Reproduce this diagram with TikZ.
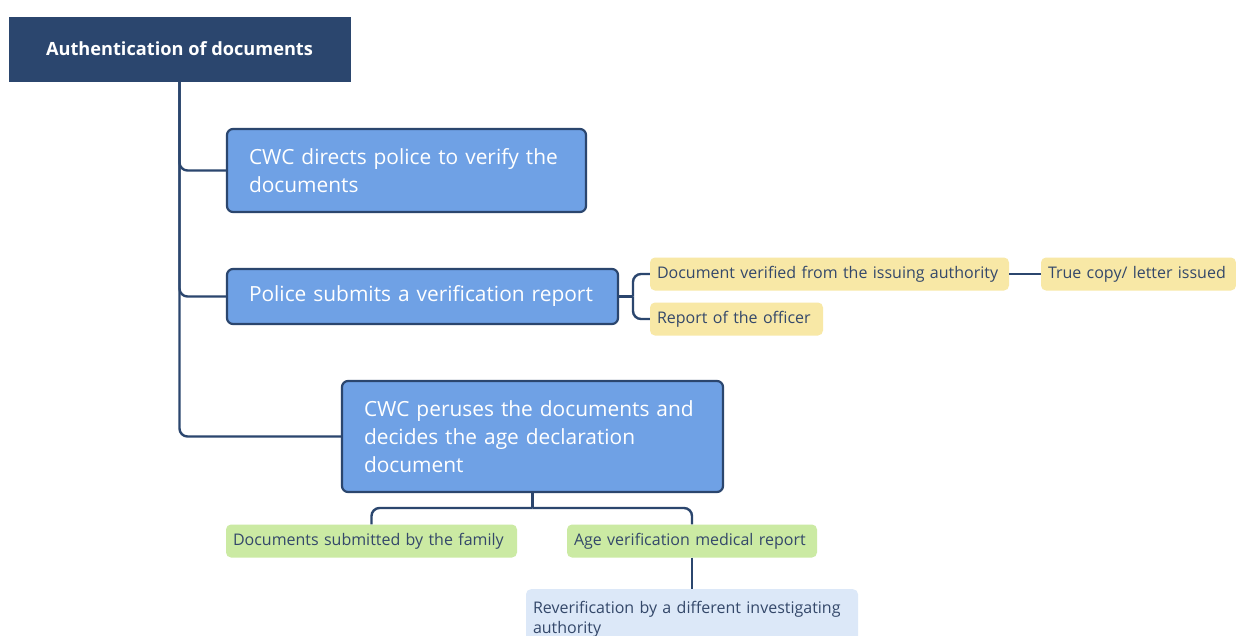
\documentclass[tikz,border=0pt]{standalone}
\usepackage{fontspec}
\setmainfont{Open Sans}
\definecolor{navy}{HTML}{2B466E}
\definecolor{boxblue}{HTML}{6FA1E5}
\definecolor{ylw}{HTML}{F8E8A6}
\definecolor{grn}{HTML}{CBEAA3}
\definecolor{lblue}{HTML}{DCE8F8}
\definecolor{txt}{HTML}{34486A}
\tikzset{
  rootbox/.style={draw=navy, fill=navy, text=white, font=\fontsize{18.2}{21}\selectfont\bfseries, minimum width=341pt, minimum height=64pt, inner sep=0pt},
  bluebox/.style={draw=navy, line width=2.2pt, fill=boxblue, text=white, rounded corners=6pt, align=left, font=\fontsize{20.9}{28}\selectfont, inner xsep=22pt, inner ysep=0pt},
  leaf/.style={rounded corners=5pt, text=txt, align=left, font=\fontsize{16}{20}\selectfont, inner xsep=7pt, inner ysep=0pt, minimum height=33pt},
  ylwbox/.style={leaf, fill=ylw},
  grnbox/.style={leaf, fill=grn},
  lbox/.style={leaf, fill=lblue},
  conn/.style={draw=navy, line width=2.4pt, rounded corners=8pt},
}
\begin{document}
\begin{tikzpicture}[x=1pt,y=-1pt]
\clip (0,0) rectangle (1236,635);
\fill[white] (0,0) rectangle (1236,635);
% nodes
\node[rootbox] (root) at (179.5,49) {Authentication of documents};
\node[bluebox, minimum width=359pt, minimum height=83pt, text width=315pt] (b1) at (406.5,170.5) {CWC directs police to verify the\\documents};
\node[bluebox, minimum width=391pt, minimum height=55pt, text width=347pt] (b2) at (422.5,296.5) {Police submits a verification report};
\node[bluebox, minimum width=381pt, minimum height=111pt, text width=337pt] (b3) at (532.5,436.5) {CWC peruses the documents and\\decides the age declaration\\document};
\node[ylwbox, minimum width=359pt, text width=345pt] (y1) at (829.5,274) {\mbox{Document verified from the issuing authority}};
\node[ylwbox, minimum width=195pt, text width=181pt] (y3) at (1138.5,274) {\mbox{True copy/ letter issued}};
\node[ylwbox, minimum width=173pt, text width=159pt] (y2) at (736.5,319) {\mbox{Report of the officer}};
\node[grnbox, minimum width=291pt, text width=277pt] (g1) at (371.5,541) {\mbox{Documents submitted by the family}};
\node[grnbox, minimum width=250pt, text width=236pt] (g2) at (692,541) {\mbox{Age verification medical report}};
\node[lbox, anchor=north, minimum width=332pt, minimum height=60pt, text width=318pt, inner ysep=8pt] (r1) at (692,589) {Reverification by a different investigating\\authority};
% connectors
\draw[conn] (root.south) |- (b1.west);
\draw[conn] (root.south) |- (b2.west);
\draw[conn] (root.south) |- (b3.west);
\coordinate (j2) at (633,296.5);
\draw[conn] (b2.east) -- (j2);
\draw[conn] (j2) |- (y1.west);
\draw[conn] (j2) |- (y2.west);
\draw[conn] (y1.east) -- (y3.west);
\coordinate (j3) at (532.5,508);
\draw[conn] (b3.south) -- (j3);
\draw[conn] (j3) -| (g1.north);
\draw[conn] (j3) -| (g2.north);
\draw[conn] (g2.south) -- (r1.north);
\end{tikzpicture}
\end{document}
